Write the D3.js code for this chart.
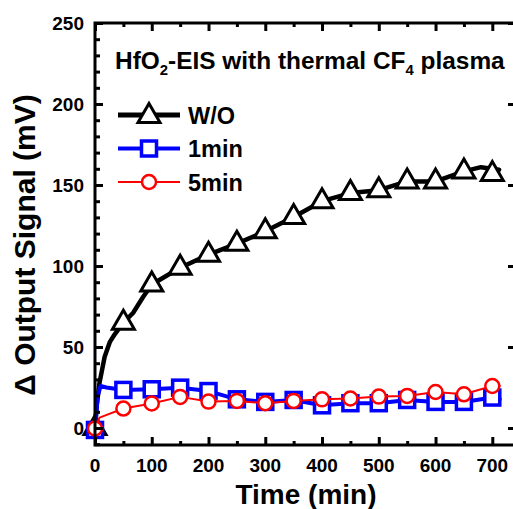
<!DOCTYPE html>
<html><head><meta charset="utf-8">
<script src="https://cdn.jsdelivr.net/npm/d3@7"></script>
<style>
html,body{margin:0;padding:0;background:#fff;}
svg{display:block;font-family:"Liberation Sans",Arial,sans-serif;font-weight:bold;}
</style></head>
<body>
<svg id="chart" width="513" height="509"></svg>
<script>
// ---- data ----
const markerTimes = [0, 50, 100, 150, 200, 250, 300, 350, 400, 450, 500, 550, 600, 650, 700];
const woMarkers   = [0, 65, 88.6, 98.9, 107, 113.8, 121.4, 130.3, 140, 145, 146.8, 152.2, 152.2, 158.4, 156.8];
const min1Markers = [-1.2, 23.5, 23.9, 24.9, 22.8, 17.7, 16.1, 17.3, 14, 15.3, 15.3, 17.3, 16.1, 16.1, 18.8];
const min5Markers = [-0.3, 12, 15.1, 19.2, 16.3, 16.7, 15.3, 16.7, 17.7, 18.2, 19.4, 19.8, 22.2, 20.8, 25.9];
// dense line readings (time, value)
const woLineT   = [0, 3, 8, 17, 26, 35, 50, 67, 85, 100, 150, 200, 250, 300, 350, 400, 450, 500, 550, 600, 650, 680, 712];
const woLineV   = [0, 14, 28, 44, 53, 58, 65, 71, 81, 88.6, 98.9, 107, 113.8, 121.4, 130.3, 140, 145, 146.8, 152.2, 152.2, 158.4, 161, 159.4];
const min1LineT = [0, 5, 10, 20, 50, 100, 150, 200, 250, 300, 350, 400, 450, 500, 550, 600, 650, 700, 713];
const min1LineV = [-1.2, 20, 26, 25, 23.5, 23.9, 24.9, 22.8, 17.7, 16.1, 17.3, 14, 15.3, 15.3, 17.3, 16.1, 16.1, 18.8, 17.7];
const min5LineT = [0, 8, 50, 100, 150, 200, 250, 300, 350, 400, 450, 500, 550, 600, 650, 700, 713];
const min5LineV = [-0.3, 6.4, 12, 15.1, 19.2, 16.3, 16.7, 15.3, 16.7, 17.7, 18.2, 19.4, 19.8, 22.2, 20.8, 25.9, 26];
const xTickValues = [0, 100, 200, 300, 400, 500, 600, 700];
const yTickValues = [0, 50, 100, 150, 200, 250];
const legendLabels = ["W/O", "1min", "5min"];
const seriesColors = ["#000000", "#0000ff", "#ff0000"];

// ---- layout ----
const svg = d3.select("#chart");
const L = 95, R = 515, T = 23, B = 445;
const x = d3.scaleLinear().domain([0, 740]).range([L, R]);
const y = d3.scaleLinear().domain([-10.5, 250]).range([B, T]);

// ---- series ----
const line = d3.line().x(d => x(d[0])).y(d => y(d[1]));
const series = [
  {lt: woLineT, lv: woLineV, mv: woMarkers, color: seriesColors[0], lw: 4.5, shape: "tri"},
  {lt: min1LineT, lv: min1LineV, mv: min1Markers, color: seriesColors[1], lw: 4, shape: "sq"},
  {lt: min5LineT, lv: min5LineV, mv: min5Markers, color: seriesColors[2], lw: 2, shape: "circ"}
];
function drawMarker(g, shape, color) {
  if (shape === "tri") {
    g.append("path").attr("d", "M0,-12.5L11,6.5L-11,6.5Z")
      .attr("fill", "#fff").attr("stroke", color).attr("stroke-width", 3).attr("stroke-linejoin", "miter");
  } else if (shape === "sq") {
    g.append("rect").attr("x", -7.5).attr("y", -7.5).attr("width", 15).attr("height", 15)
      .attr("fill", "#fff").attr("stroke", color).attr("stroke-width", 3.5);
  } else {
    g.append("circle").attr("r", 7).attr("fill", "#fff").attr("stroke", color).attr("stroke-width", 2.5);
  }
}
const plot = svg.append("g");
series.forEach(s => {
  const pts = s.lt.map((t, i) => [t, s.lv[i]]);
  plot.append("path").datum(pts).attr("d", line)
    .attr("fill", "none").attr("stroke", s.color).attr("stroke-width", s.lw)
    .attr("stroke-linejoin", "round").attr("stroke-linecap", "round");
  markerTimes.forEach((t, i) => {
    const g = plot.append("g").attr("transform", `translate(${x(t)},${y(s.mv[i])})`);
    drawMarker(g, s.shape, s.color);
  });
});

// ---- axes ----
const ax = svg.append("g");
const xMinor = d3.range(50, 740, 100);
const yMinor = d3.range(-10, 251, 10).filter(v => v % 50 !== 0);
ax.append("g").attr("transform", `translate(0,${B})`)
  .call(d3.axisBottom(x).tickValues(xTickValues).tickSize(-8).tickFormat(""))
  .call(g => g.select(".domain").remove());
ax.append("g").attr("transform", `translate(0,${B})`)
  .call(d3.axisBottom(x).tickValues(xMinor).tickSize(-4).tickFormat(""))
  .call(g => g.select(".domain").remove());
ax.append("g").attr("transform", `translate(0,${T})`)
  .call(d3.axisTop(x).tickValues(xTickValues).tickSize(-8).tickFormat(""))
  .call(g => g.select(".domain").remove());
ax.append("g").attr("transform", `translate(0,${T})`)
  .call(d3.axisTop(x).tickValues(xMinor).tickSize(-4).tickFormat(""))
  .call(g => g.select(".domain").remove());
ax.append("g").attr("transform", `translate(${L},0)`)
  .call(d3.axisLeft(y).tickValues(yTickValues).tickSize(-8).tickFormat(""))
  .call(g => g.select(".domain").remove());
ax.append("g").attr("transform", `translate(${L},0)`)
  .call(d3.axisLeft(y).tickValues(yMinor).tickSize(-5).tickFormat(""))
  .call(g => g.select(".domain").remove());
ax.append("g").attr("transform", `translate(${R},0)`)
  .call(d3.axisRight(y).tickValues(yTickValues).tickSize(-7).tickFormat(""))
  .call(g => g.select(".domain").remove());
ax.selectAll(".tick line").attr("stroke", "#000").attr("stroke-width", 3);
ax.append("rect").attr("x", L).attr("y", T).attr("width", R - L).attr("height", B - T)
  .attr("fill", "none").attr("stroke", "#000").attr("stroke-width", 3);

// tick labels
const lab = svg.append("g").attr("font-size", 19).attr("fill", "#000");
xTickValues.forEach(v => {
  lab.append("text").attr("x", x(v)).attr("y", 471.5).attr("text-anchor", "middle").text(v);
});
yTickValues.forEach(v => {
  lab.append("text").attr("x", 84).attr("y", y(v) + 7).attr("text-anchor", "end").text(v);
});

// axis titles
svg.append("text").attr("x", (L + R) / 2 + 1).attr("y", 503.5).attr("text-anchor", "middle")
  .attr("font-size", 28).text("Time (min)");
svg.append("text").attr("transform", `translate(35,${245}) rotate(-90)`).attr("text-anchor", "middle")
  .attr("font-size", 30).text("\u0394 Output Signal (mV)");

// title
const title = svg.append("text").attr("x", 0).attr("y", 0).attr("font-size", 23);
title.append("tspan").text("HfO");
title.append("tspan").attr("font-size", 14).attr("dy", 6).text("2");
title.append("tspan").attr("dy", -6).text("-EIS with thermal CF");
title.append("tspan").attr("font-size", 14).attr("dy", 6).text("4");
title.append("tspan").attr("dy", -6).text(" plasma");
const tw = title.node().getBBox().width;
title.attr("transform", `translate(115,69) scale(${390 / tw},1)`);

// legend
const legY = [115, 148.5, 182];
const shapes = ["tri", "sq", "circ"];
const lws = [5, 4, 2];
legendLabels.forEach((name, i) => {
  const g = svg.append("g");
  g.append("line").attr("x1", 118).attr("x2", 180).attr("y1", legY[i]).attr("y2", legY[i])
    .attr("stroke", seriesColors[i]).attr("stroke-width", lws[i]);
  const m = g.append("g").attr("transform", `translate(149,${legY[i] + (i === 0 ? 1 : 0)})`);
  drawMarker(m, shapes[i], seriesColors[i]);
  g.append("text").attr("x", 188).attr("y", legY[i] + 8.5).attr("font-size", 23.5).text(name);
});
</script>
</body></html>
